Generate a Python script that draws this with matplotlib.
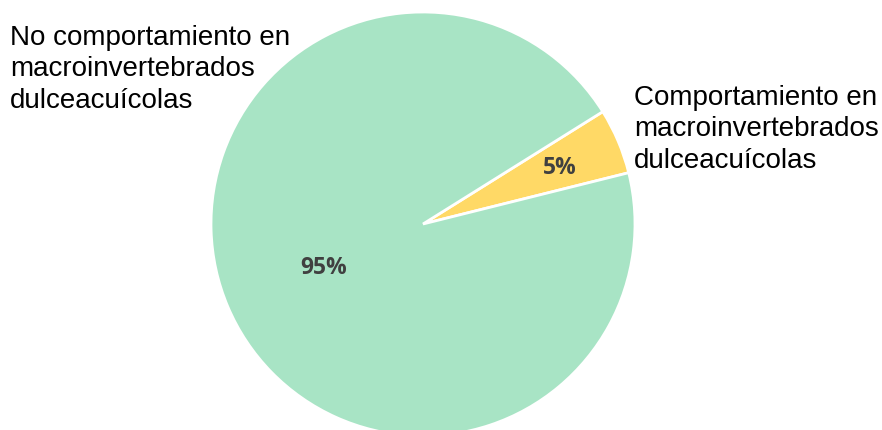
import matplotlib.pyplot as plt
import numpy as np

labels = ["Comportamiento en\nmacroinvertebrados\ndulceacuícolas",
          "No comportamiento en\nmacroinvertebrados\ndulceacuícolas"]
values = [5, 95]
colors = ["#FFD966", "#A8E4C5"]

W, H = 882, 430
fig = plt.figure(figsize=(W/100, H/100), dpi=100)

# pie centre and radius in pixels
cx, cy, r = 423, 224, 212
ax = fig.add_axes([(cx-r)/W, (H-cy-r)/H, 2*r/W, 2*r/H])

wedges, _ = ax.pie(values, colors=colors, startangle=14, counterclock=True,
                   wedgeprops=dict(edgecolor="white", linewidth=2))
ax.set_xlim(-1, 1)
ax.set_ylim(-1, 1)
ax.set_aspect("equal")
ax.axis("off")

# percentage labels
pct_dist = [0.70, 0.51]
for w, v, d in zip(wedges, values, pct_dist):
    mid = np.deg2rad((w.theta1 + w.theta2) / 2)
    ax.text(d*np.cos(mid), d*np.sin(mid) - 0.01, f"{v}%", ha="center", va="center",
            fontsize=16.5, fontweight="bold", color="#404040", family="Open Sans")

# category labels
fig.text(634/W, 1 - 85/H, labels[0], ha="left", va="top", fontsize=20,
         family="Liberation Sans", color="black", linespacing=1.27)
fig.text(10/W, 1 - 25/H, labels[1], ha="left", va="top", fontsize=20,
         family="Liberation Sans", color="black", linespacing=1.27)

fig.savefig("out.png", dpi=100)
